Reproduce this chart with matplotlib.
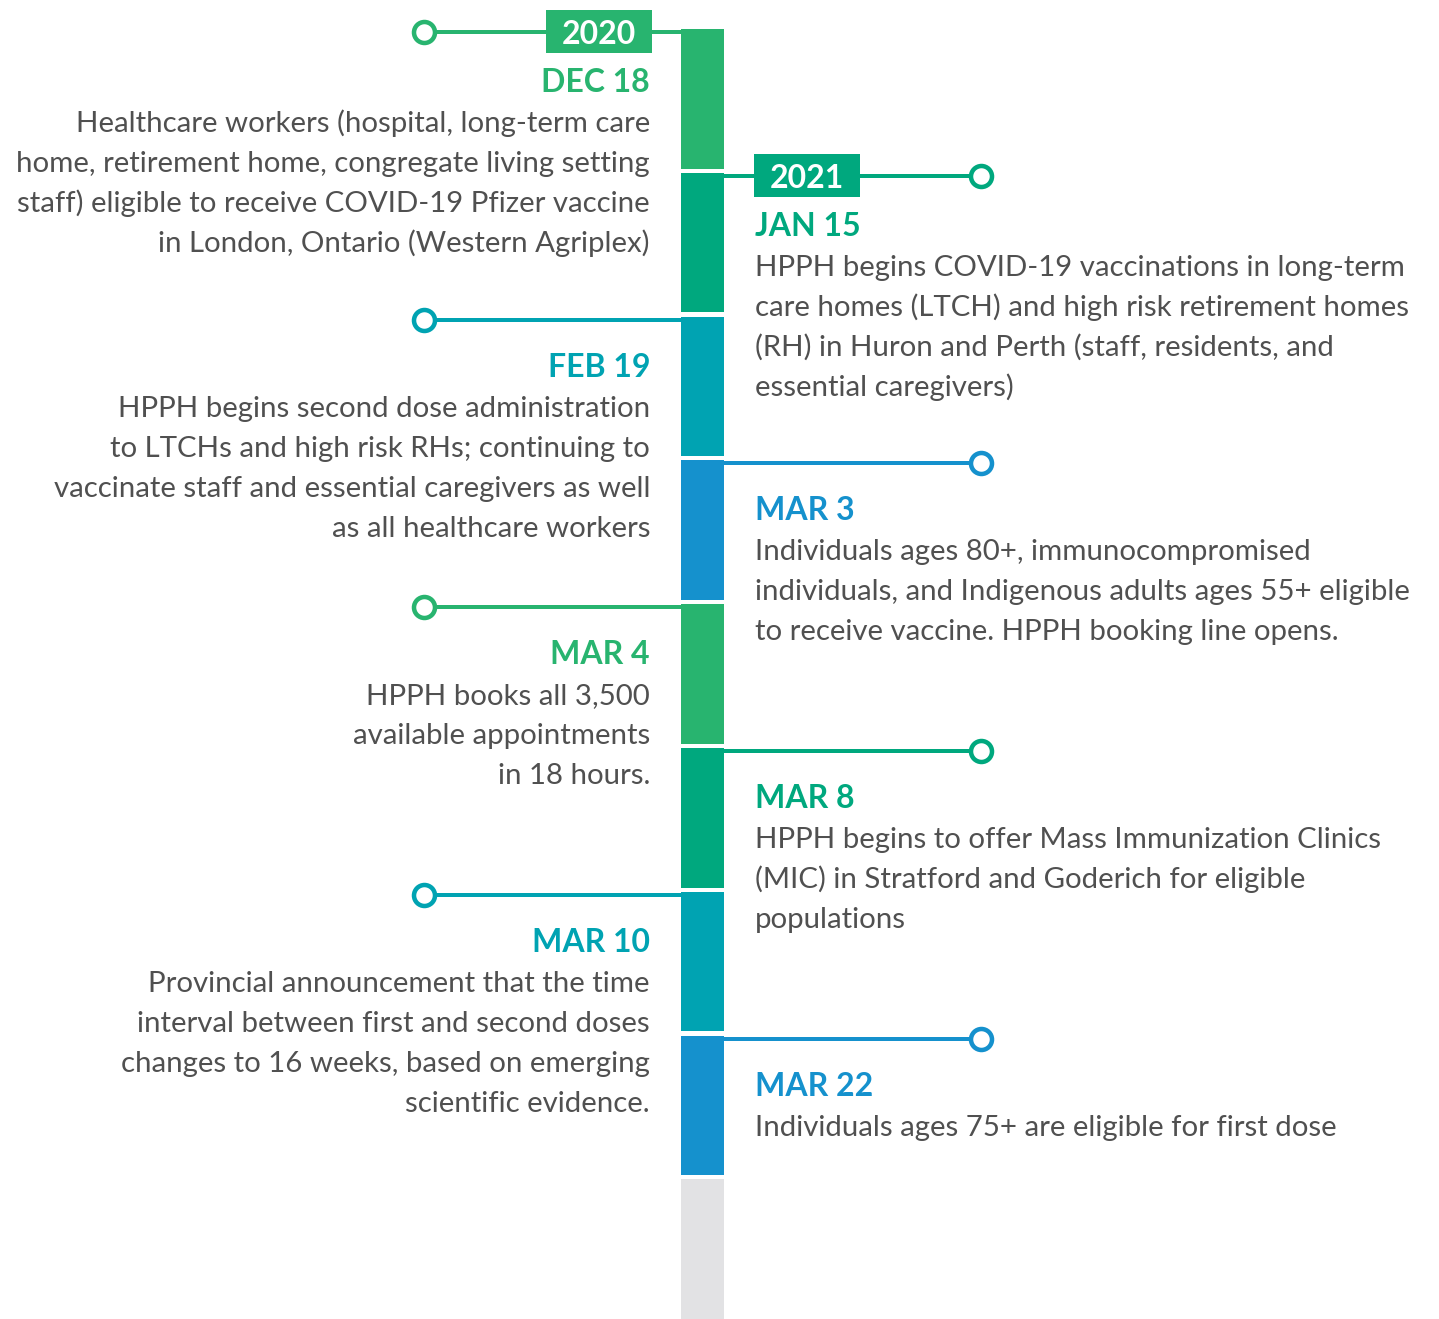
import matplotlib.pyplot as plt
from matplotlib.patches import Rectangle

plt.rcParams['font.family'] = ['Lato', 'DejaVu Sans']

# timeline events, top to bottom
dates = ["DEC 18", "JAN 15", "FEB 19", "MAR 3", "MAR 4", "MAR 8", "MAR 10", "MAR 22"]
years = ["2020", "2021", None, None, None, None, None, None]
sides = ["left", "right", "left", "right", "left", "right", "left", "right"]
texts = [
    ["Healthcare workers (hospital, long-term care",
     "home, retirement home, congregate living setting",
     "staff) eligible to receive COVID-19 Pfizer vaccine",
     "in London, Ontario (Western Agriplex)"],
    ["HPPH begins COVID-19 vaccinations in long-term",
     "care homes (LTCH) and high risk retirement homes",
     "(RH) in Huron and Perth (staff, residents, and",
     "essential caregivers)"],
    ["HPPH begins second dose administration",
     "to LTCHs and high risk RHs; continuing to",
     "vaccinate staff and essential caregivers as well",
     "as all healthcare workers"],
    ["Individuals ages 80+, immunocompromised",
     "individuals, and Indigenous adults ages 55+ eligible",
     "to receive vaccine. HPPH booking line opens."],
    ["HPPH books all 3,500",
     "available appointments",
     "in 18 hours."],
    ["HPPH begins to offer Mass Immunization Clinics",
     "(MIC) in Stratford and Goderich for eligible",
     "populations"],
    ["Provincial announcement that the time",
     "interval between first and second doses",
     "changes to 16 weeks, based on emerging",
     "scientific evidence."],
    ["Individuals ages 75+ are eligible for first dose"],
]
colors = ["#28b46f", "#00a87e", "#00a3b2", "#1591cd"] * 2
grey = "#e2e2e4"
text_grey = "#505050"

W, H = 1439, 1319
fig = plt.figure(figsize=(W / 100, H / 100), dpi=100)
ax = fig.add_axes([0, 0, 1, 1])
ax.set_xlim(0, W)
ax.set_ylim(H, 0)
ax.axis('off')

bar_x0, bar_x1 = 681, 724
seg_top, seg_step, seg_h = 29, 143.8, 139.5
px = 72 / 100  # points per pixel

for i, (date, year, side, lines, c) in enumerate(zip(dates, years, sides, texts, colors)):
    top = seg_top + i * seg_step
    ax.add_patch(Rectangle((bar_x0, top), bar_x1 - bar_x0, seg_h, color=c, lw=0, zorder=2))
    ly = top + 3
    if side == "left":
        xs, xe, tx, ha = 424, bar_x0, 650, "right"
    else:
        xs, xe, tx, ha = bar_x1, 981, 755, "left"
    ax.plot([xs, xe], [ly, ly], color=c, lw=4 * px, solid_capstyle='butt', zorder=1)
    ax.plot([424 if side == "left" else 981], [ly], marker='o', ms=21 * px,
            mfc='white', mec=c, mew=4.5 * px, zorder=3)
    extra = 3 if year else 0
    if year:
        bx0 = 546 if side == "left" else 754
        ax.add_patch(Rectangle((bx0, ly - 22), 106, 43, color=c, lw=0, zorder=4))
        ax.text(bx0 + 53, ly + 12, year, color='white', fontsize=32 * px,
                fontweight='bold', ha='center', va='baseline', zorder=5)
    ax.text(tx, ly + 57 + extra, date, color=c, fontsize=32 * px, fontweight='bold',
            ha=ha, va='baseline')
    for j, ln in enumerate(lines):
        ax.text(tx, ly + 97 + extra + 40 * j, ln, color=text_grey, fontsize=29.4 * px,
                ha=ha, va='baseline')

# remaining grey tail of the timeline
tail_top = seg_top + len(dates) * seg_step
ax.add_patch(Rectangle((bar_x0, tail_top), bar_x1 - bar_x0, H - tail_top, color=grey, lw=0))

fig.savefig("out.png", dpi=100)
